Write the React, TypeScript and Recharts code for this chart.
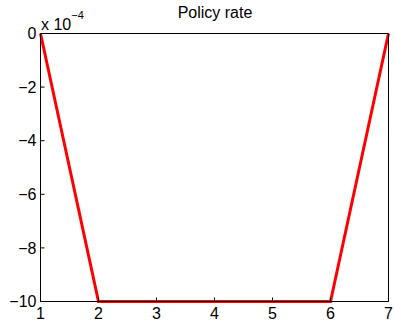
import React from 'react';
import { LineChart, Line, XAxis, YAxis } from 'recharts';

const periods = [1, 2, 3, 4, 5, 6, 7];
const policyRate = [0, -0.001, -0.001, -0.001, -0.001, -0.001, 0];
const xTicks = [1, 2, 3, 4, 5, 6, 7];
const yTicks = [-0.001, -0.0008, -0.0006, -0.0004, -0.0002, 0];
const yScale = 1e-4;

const data = periods.map((p, i) => ({ period: p, rate: policyRate[i] }));

const W = 394;
const H = 324;
const FONT = '"Liberation Sans", Arial, Helvetica, sans-serif';
const TICK_MARGIN = 4;
const TICK_LEN = 4;

const fmtY = (v: number) => {
  const n = Math.round(v / yScale);
  return n < 0 ? `\u2212${Math.abs(n)}` : String(n);
};

// bottom tick: label plus a short tick pointing into the plot
const XTick = (props: any) => {
  const { x, y, payload } = props;
  const axisY = y - TICK_MARGIN;
  return (
    <g>
      <line x1={x} x2={x} y1={axisY} y2={axisY - TICK_LEN} stroke="#000" strokeWidth={1} />
      <text x={x} y={y} dy="0.82em" textAnchor="middle" fontSize={16} fontFamily={FONT} fill="#000">
        {payload.value}
      </text>
    </g>
  );
};

// left tick: label plus a short tick pointing into the plot
const YTick = (props: any) => {
  const { x, y, payload } = props;
  const axisX = x + TICK_MARGIN;
  return (
    <g>
      <line x1={axisX} x2={axisX + TICK_LEN} y1={y} y2={y} stroke="#000" strokeWidth={1} />
      <text x={x} y={y} dy="0.36em" textAnchor="end" fontSize={16} fontFamily={FONT} fill="#000">
        {fmtY(payload.value)}
      </text>
    </g>
  );
};

export default function App() {
  return (
    <div style={{ position: 'absolute', left: 0, top: 0, width: W, height: H, background: '#fff' }}>
      <LineChart
        width={W}
        height={H}
        data={data}
        margin={{ top: 33.5, right: 5.5, bottom: 0.5, left: 0 }}
      >
        <XAxis
          xAxisId="b"
          dataKey="period"
          type="number"
          domain={[1, 7]}
          ticks={xTicks}
          height={22}
          tickSize={0}
          tickMargin={TICK_MARGIN}
          tickLine={false}
          tick={<XTick />}
          axisLine={{ stroke: '#000' }}
          interval={0}
        />
        <XAxis
          xAxisId="t"
          dataKey="period"
          type="number"
          orientation="top"
          domain={[1, 7]}
          ticks={xTicks}
          mirror
          tick={false}
          tickSize={TICK_LEN}
          tickLine={{ stroke: '#000' }}
          axisLine={{ stroke: '#000' }}
          interval={0}
        />
        <YAxis
          yAxisId="l"
          type="number"
          domain={[-0.001, 0]}
          ticks={yTicks}
          width={40.5}
          tickSize={0}
          tickMargin={TICK_MARGIN}
          tickLine={false}
          tick={<YTick />}
          axisLine={{ stroke: '#000' }}
          interval={0}
        />
        <YAxis
          yAxisId="r"
          type="number"
          orientation="right"
          domain={[-0.001, 0]}
          ticks={yTicks}
          mirror
          tick={false}
          tickSize={TICK_LEN}
          tickLine={{ stroke: '#000' }}
          axisLine={{ stroke: '#000' }}
          interval={0}
        />
        <Line
          xAxisId="t"
          yAxisId="r"
          dataKey="rate"
          stroke="none"
          dot={false}
          isAnimationActive={false}
        />
        <Line
          xAxisId="b"
          yAxisId="l"
          dataKey="rate"
          type="linear"
          stroke="#ff0000"
          strokeWidth={3}
          dot={false}
          isAnimationActive={false}
        />
      </LineChart>
      <svg
        width={W}
        height={H}
        style={{ position: 'absolute', left: 0, top: 0, pointerEvents: 'none' }}
      >
        <text x={215} y={18} textAnchor="middle" fontSize={16} fontFamily={FONT} fill="#000">
          Policy rate
        </text>
        <text x={41} y={30} fontSize={16} fontFamily={FONT} fill="#000">
          x 10
          <tspan fontSize={11} dy={-11}>{'\u22124'}</tspan>
        </text>
      </svg>
    </div>
  );
}
